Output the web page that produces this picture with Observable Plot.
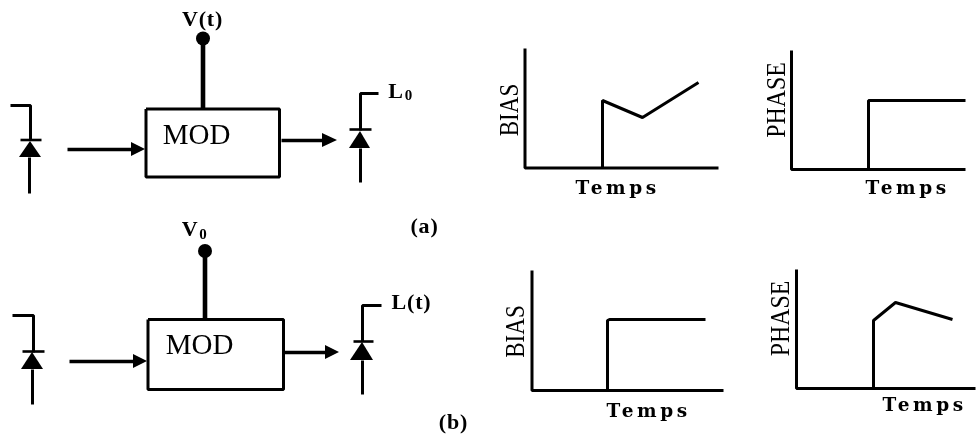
<!DOCTYPE html>
<html>
<head>
<meta charset="utf-8">
<script src="https://cdn.jsdelivr.net/npm/d3@7"></script>
<script src="https://cdn.jsdelivr.net/npm/@observablehq/plot@0.6"></script>
<style>
html,body{margin:0;padding:0;background:#fff}
svg{display:block;filter:blur(0.35px)}
.temps text{letter-spacing:3.6px}
.spaced text{letter-spacing:0.8px}
</style>
</head>
<body>
<div id="chart"></div>
<script>
// Leads, boxes and signal traces, as [x, y] vertices in the drawing's own units
const leadsA = [
  [[202.5,108],[202.5,38]],
  [[67,149],[135,149]],
  [[281,140],[325,140]]
];
const leadsB = [
  [[204.5,319],[204.5,250]],
  [[69,361],[137,361]],
  [[284,352],[328,352]]
];
const boxes = [
  [[145.5,108.5],[279,108.5],[279,176.5],[145.5,176.5],[145.5,108.5]],
  [[147.5,319],[283,319],[283,389],[147.5,389],[147.5,319]]
];
const diodeWires = [
  [[10,105],[30,105],[30,140]], [[29,157],[29,193]],
  [[360,130],[360,93],[378,93]], [[360,148],[360,182]],
  [[12,315],[33,315],[33,352]], [[32,369],[32,404]],
  [[362,341],[362,305],[381,305]], [[362,360],[362,394]]
];
const diodeBars = [
  [[20,139.5],[41,139.5]], [[349,129],[371,129]],
  [[22,351],[44,351]], [[353,341],[373,341]]
];
// [base left x, apex x, base right x, apex y, base y]
const diodeHeads = [
  [19,30,41,141,157], [349,360,370,131,148],
  [21,32,43,352,369], [350,362,373,342,360]
];
// [base x, tip x, centre y]
const arrowHeads = [
  [131,145,149],[322,337,140],[133,147,361],[325,339,352]
];
const terminals = [[202.5,38],[204.5,250.5]];

const axesBiasA  = [[524.5,48],[524.5,167.5],[718,167.5]];
const traceBiasA = [[602,167],[602,100],[642,117],[698,82]];
const axesPhaseA  = [[791,50],[791,169],[965,169]];
const tracePhaseA = [[868,169],[868,100],[965,100]];
const axesBiasB  = [[531.5,270],[531.5,390],[723,390]];
const traceBiasB = [[607,390],[607,320],[609,319],[705,319]];
const axesPhaseB  = [[796,269],[796,388],[975,388]];
const tracePhaseB = [[873,388],[873,320],[895,302],[952,319]];

const tempsLabels = [[575,193,"Temps"],[865,193,"Temps"],[606,416,"Temps"],[882,410,"Temps"]];
const biasLabels  = [[517,109.5,"BIAS"],[523,331,"BIAS"]];
const phaseLabels = [[784,99.5,"PHASE"],[788,318,"PHASE"]];
const modLabels   = [[196,143,"MOD"],[199,353,"MOD"]];
const spacedLabels = [[202,25,"V(t)"],[424,232,"(a)"],[411,308,"L(t)"],[453,428,"(b)"],[395.5,97,"L"],[189.5,235,"V"]];
const subscripts = [[408,99,"0"],[202.5,238.5,"0"]];

const px = d => d[0], py = d => d[1], label = d => d[2];
const wire = (data, w) => Plot.line(data, {x: px, y: py, stroke: "#000", strokeWidth: w, strokeLinejoin: "miter", strokeLinecap: "butt", curve: "linear"});
const serif = {x: px, y: py, text: label, fontFamily: "Liberation Serif", fill: "#000", textAnchor: "middle", lineAnchor: "bottom"};

const marks = [
  ...[...leadsA, ...leadsB].map((l, i) => wire(l, i % 3 === 0 ? 4.6 : 3.6)),
  ...boxes.map(b => wire(b, 3)),
  ...diodeWires.map(l => wire(l, 3)),
  ...diodeBars.map(l => wire(l, 2.6)),
  ...diodeHeads.map(([a, b, c, top, base]) => Plot.areaY([[a, base, base], [b, base, top], [c, base, base]], {x: d => d[0], y1: d => d[1], y2: d => d[2], fill: "#000"})),
  ...arrowHeads.map(([b, t, y]) => Plot.areaY([[b, y - 7, y + 7], [t, y, y]], {x: d => d[0], y1: d => d[1], y2: d => d[2], fill: "#000"})),
  Plot.dot(terminals, {x: px, y: py, r: 7, fill: "#000"}),
  ...[axesBiasA, axesPhaseA, axesBiasB, axesPhaseB].map(l => wire(l, 3)),
  ...[traceBiasA, tracePhaseA, traceBiasB, tracePhaseB].map(l => wire(l, 3)),
  Plot.text(tempsLabels, {x: px, y: py, text: label, className: "temps", fontFamily: "DejaVu Serif", fontWeight: "bold", fontSize: 18.5, fill: "#000", textAnchor: "start", lineAnchor: "bottom"}),
  Plot.text(biasLabels, {...serif, rotate: -90, className: "vlabel", fontSize: 27}),
  Plot.text(phaseLabels, {...serif, rotate: -90, className: "vlabel", fontSize: 27}),
  Plot.text(modLabels, {...serif, fontSize: 29}),
  Plot.text(spacedLabels, {...serif, className: "spaced", fontWeight: "bold", fontSize: 22}),
  Plot.text(subscripts, {...serif, fontWeight: "bold", fontSize: 15})
];

const svg = Plot.plot({
  width: 979, height: 435,
  marginTop: 0, marginRight: 0, marginBottom: 0, marginLeft: 0,
  x: {domain: [0, 979], range: [0, 979], axis: null},
  y: {domain: [0, 435], range: [0, 435], axis: null},
  style: {background: "#fff"},
  marks
});
// The upright axis titles are set in a condensed cut in the source
svg.querySelectorAll(".vlabel text").forEach(t => {
  t.setAttribute("textLength", t.textContent === "BIAS" ? 52.5 : 75.5);
  t.setAttribute("lengthAdjust", "spacingAndGlyphs");
});
document.getElementById("chart").append(svg);
</script>
</body>
</html>
